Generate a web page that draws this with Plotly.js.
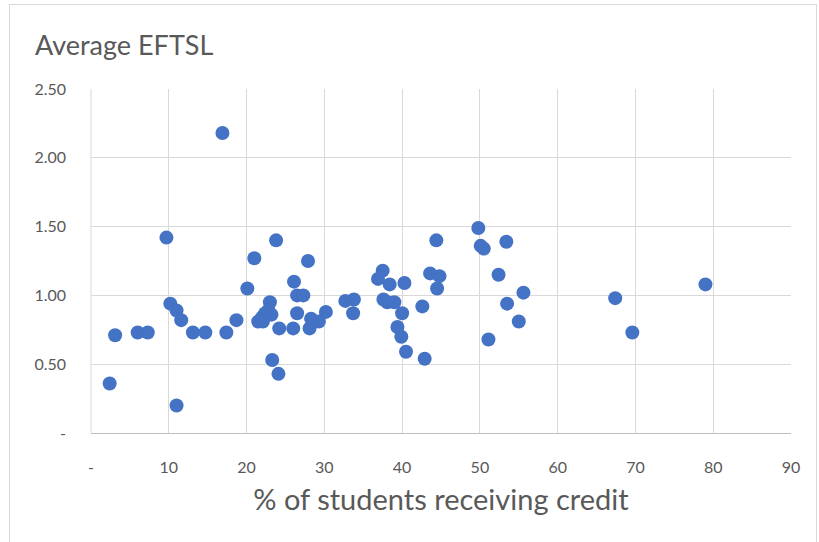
<!DOCTYPE html>
<html>
<head>
<meta charset="utf-8">
<script src="https://cdn.plot.ly/plotly-3.0.1.min.js"></script>
<style>
  html, body { margin: 0; padding: 0; background: #ffffff; }
  #wrap { position: relative; width: 819px; height: 542px; overflow: hidden; }
  #frame { position: absolute; left: 9px; top: 4px; width: 808px; height: 560px; border: 1px solid #d9d9d9; box-sizing: border-box; }
  #chart { position: absolute; left: 0; top: 0; width: 819px; height: 542px; }
</style>
</head>
<body>
<div id="wrap">
  <div id="frame"></div>
  <div id="chart"></div>
</div>
<script>
// % of students receiving credit
const pctCredit = [
  16.9, 2.4, 3.1, 6.0, 7.3, 9.7, 10.2, 11.0, 11.6, 11.0,
  13.1, 14.7, 17.4, 18.7, 20.1, 21.0, 23.8, 23.3, 24.1, 27.9,
  26.1, 26.5, 27.3, 23.0, 21.5, 22.0, 22.4, 22.8, 23.2, 22.1,
  24.2, 26.0, 26.5, 28.1, 28.3, 29.3, 30.2, 32.7, 33.8, 33.7,
  44.4, 49.8, 50.1, 50.5, 53.4, 37.5, 36.9, 38.4, 40.3, 43.6,
  44.8, 44.5, 52.4, 55.6, 53.5, 55.0, 51.1, 37.6, 38.1, 39.0,
  40.0, 42.6, 39.4, 39.9, 40.5, 42.9, 67.4, 69.6, 79.0
];
// Average EFTSL
const avgEftsl = [
  2.18, 0.36, 0.71, 0.73, 0.73, 1.42, 0.94, 0.89, 0.82, 0.20,
  0.73, 0.73, 0.73, 0.82, 1.05, 1.27, 1.40, 0.53, 0.43, 1.25,
  1.10, 1.00, 1.00, 0.95, 0.81, 0.84, 0.87, 0.89, 0.86, 0.81,
  0.76, 0.76, 0.87, 0.76, 0.83, 0.81, 0.88, 0.96, 0.97, 0.87,
  1.40, 1.49, 1.36, 1.34, 1.39, 1.18, 1.12, 1.08, 1.09, 1.16,
  1.14, 1.05, 1.15, 1.02, 0.94, 0.81, 0.68, 0.97, 0.95, 0.95,
  0.87, 0.92, 0.77, 0.70, 0.59, 0.54, 0.98, 0.73, 1.08
];
const xTickVals = [0, 10, 20, 30, 40, 50, 60, 70, 80, 90];
const xTickText = ['-', '10', '20', '30', '40', '50', '60', '70', '80', '90'];
const yTickVals = [0, 0.5, 1.0, 1.5, 2.0, 2.5];
const yTickText = ['-', '0.50', '1.00', '1.50', '2.00', '2.50'];

const FONT = 'Lato, "Open Sans", "Noto Sans", sans-serif';
const TXT = '#595959';

const trace = {
  x: pctCredit,
  y: avgEftsl,
  type: 'scatter',
  mode: 'markers',
  marker: { color: '#4472C4', size: 14, line: { width: 0 } },
  hoverinfo: 'x+y'
};

const layout = {
  width: 819,
  height: 542,
  margin: { l: 91, r: 28, t: 89, b: 109 },
  paper_bgcolor: 'rgba(0,0,0,0)',
  plot_bgcolor: 'rgba(0,0,0,0)',
  showlegend: false,
  font: { family: FONT, color: TXT, size: 16 },
  title: {
    text: 'Average EFTSL',
    font: { family: FONT, size: 27, color: TXT },
    x: 35 / 819, xanchor: 'left',
    y: 1 - 46 / 542, yanchor: 'middle',
    xref: 'container', yref: 'container'
  },
  xaxis: {
    range: [0, 90],
    tickvals: xTickVals,
    ticktext: xTickText,
    showgrid: true,
    gridcolor: '#d9d9d9',
    gridwidth: 1,
    zeroline: false,
    showline: true,
    linecolor: '#bfbfbf',
    linewidth: 1,
    ticks: '',
    ticklabelstandoff: 20,
    tickfont: { family: FONT, size: 16, color: TXT },
    title: {
      text: '% of students receiving credit',
      font: { family: FONT, size: 29, color: TXT },
      standoff: 14
    },
    fixedrange: true
  },
  yaxis: {
    range: [0, 2.5],
    tickvals: yTickVals,
    ticktext: yTickText,
    showgrid: true,
    gridcolor: '#d9d9d9',
    gridwidth: 1,
    zeroline: false,
    showline: false,
    ticks: '',
    ticklabelstandoff: 24,
    tickfont: { family: FONT, size: 16, color: TXT },
    fixedrange: true
  },
  shapes: [
    { type: 'line', xref: 'paper', yref: 'paper', x0: 0, x1: 0, y0: 0, y1: 1,
      line: { color: '#d9d9d9', width: 1 }, layer: 'below' }
  ]
};

Plotly.newPlot('chart', [trace], layout, { displayModeBar: false, staticPlot: true });
</script>
</body>
</html>
